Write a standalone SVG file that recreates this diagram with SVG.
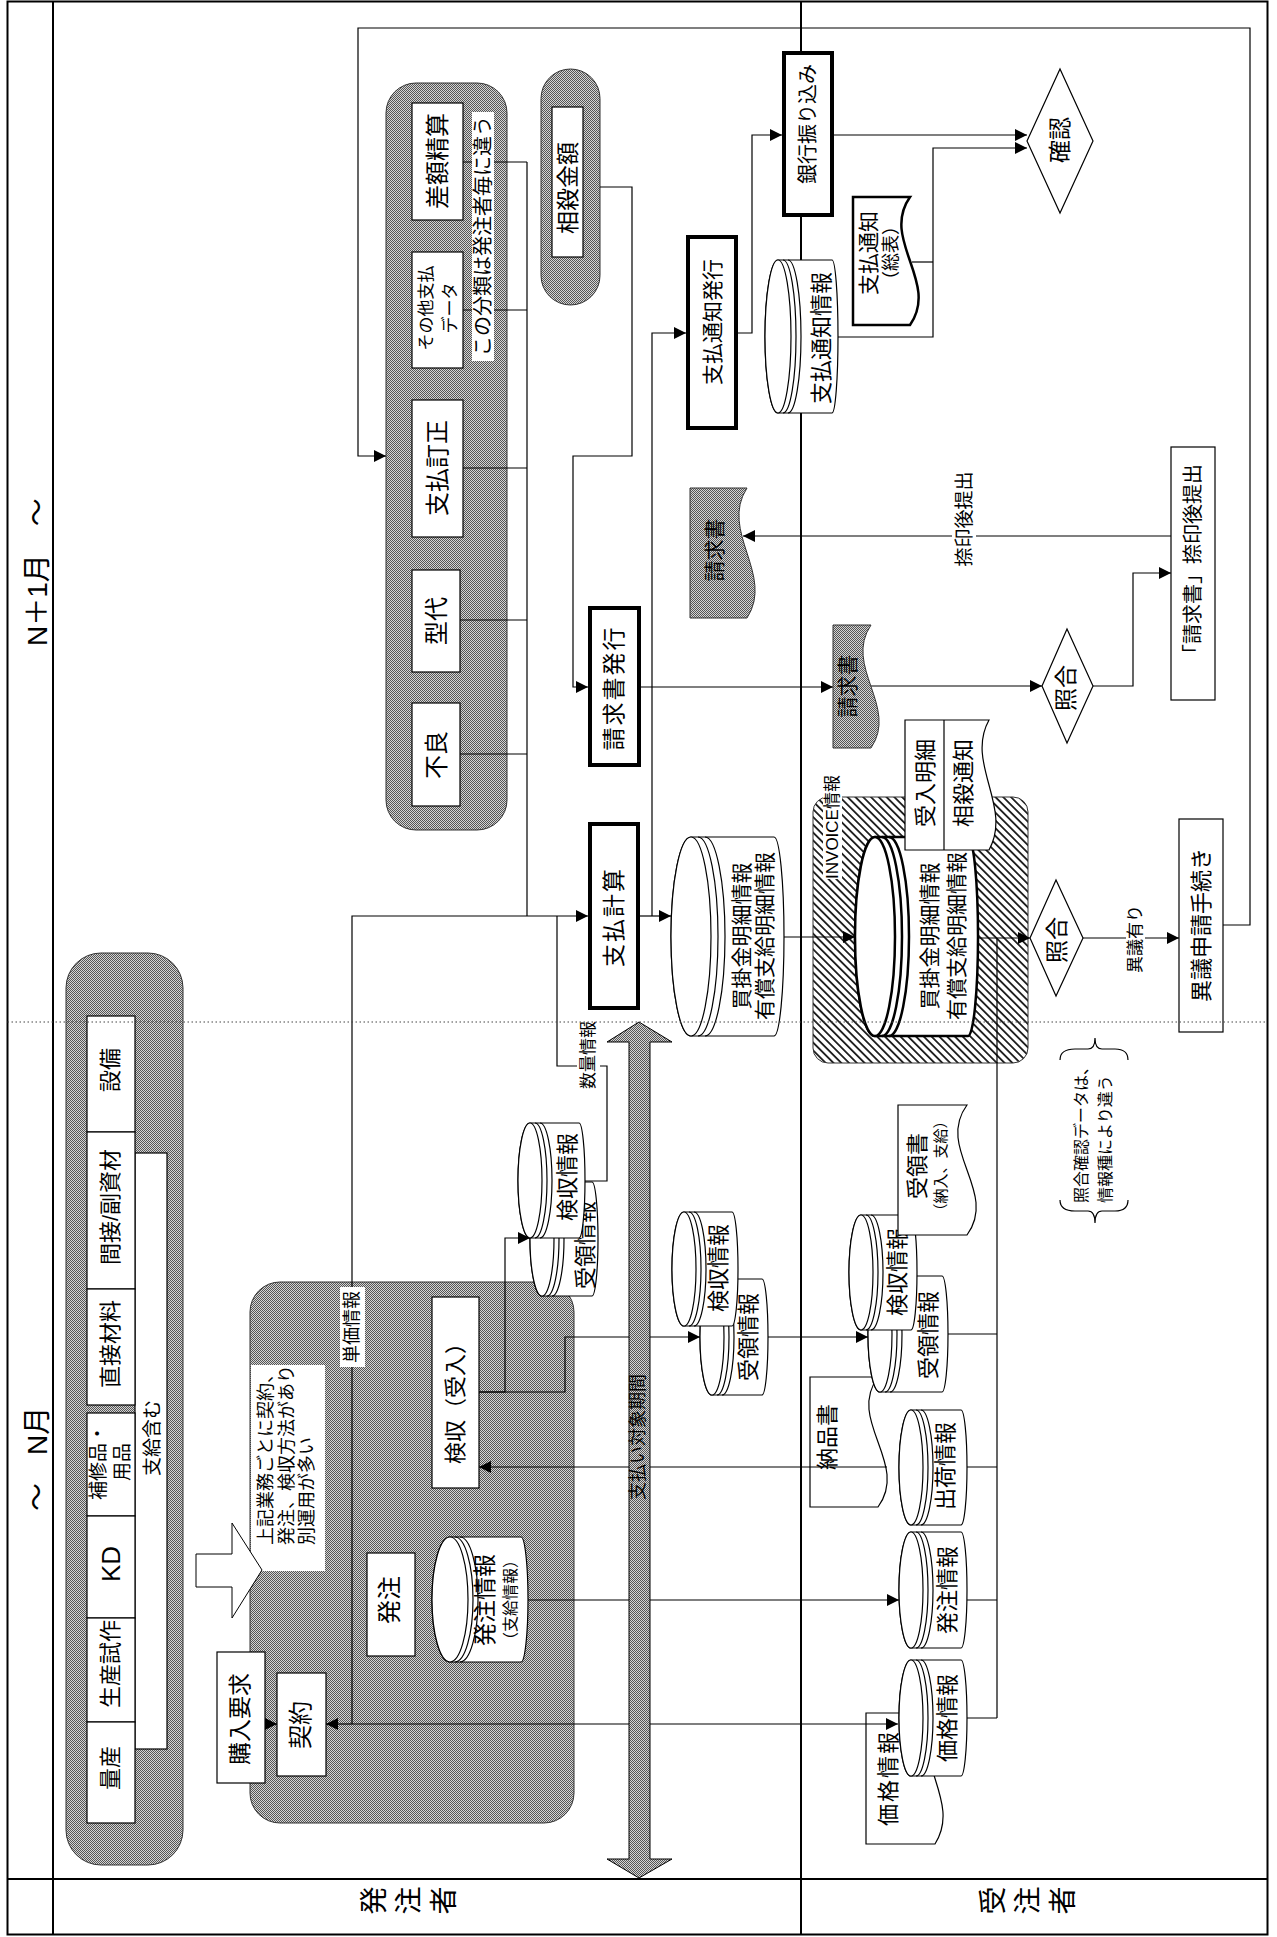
<svg xmlns="http://www.w3.org/2000/svg" width="1277" height="1937" viewBox="0 0 1277 1937">
<defs>
<pattern id="gray" width="2" height="2" patternUnits="userSpaceOnUse">
<rect width="2" height="2" fill="#d4d4d4"/>
<rect width="1" height="1" fill="#555"/>
<rect x="1" y="1" width="1" height="1" fill="#555"/>
</pattern>
<pattern id="hatch" width="5.5" height="6" patternUnits="userSpaceOnUse" patternTransform="rotate(-45)">
<rect width="5.5" height="6" fill="#fff"/>
<line x1="2.75" y1="0" x2="2.75" y2="6" stroke="#000" stroke-width="1.6"/>
</pattern>
<marker id="ah" viewBox="0 0 12 12" markerWidth="12" markerHeight="12" refX="12" refY="6" orient="auto" markerUnits="userSpaceOnUse">
<path d="M0,0 L12,6 L0,12 Z" fill="#000"/>
</marker>
</defs>
<style>
.t{font-family:"Liberation Sans","Noto Sans CJK JP",sans-serif;text-anchor:middle;dominant-baseline:central;fill:#000}
.st{text-anchor:start}
.ln{fill:none;stroke:#000;stroke-width:1.2}
.a{marker-end:url(#ah)}
.box{fill:#fff;stroke:#000;stroke-width:1.2}
.thick{fill:#fff;stroke:#000;stroke-width:4}
.grp{fill:url(#gray);stroke:#333;stroke-width:1}
.cyl{fill:#fff;stroke:#000;stroke-width:1.2}
.cylb{fill:#fff;stroke:#000;stroke-width:2.5}
.arc{fill:none;stroke:#000;stroke-width:1.2}
.arcb{fill:none;stroke:#000;stroke-width:2.5}
.doc{fill:#fff;stroke:#000;stroke-width:1.2}
.gdoc{fill:url(#gray);stroke:#333;stroke-width:1}
.bg{fill:#fff}
.frame{fill:none;stroke:#000;stroke-width:2}
.f15{font-size:15px}.f16{font-size:16px}.f17{font-size:17px}.f18{font-size:18px}.f19{font-size:19px}.f20{font-size:20px}.f21{font-size:21px}.f22{font-size:22px}.f23{font-size:23px}.f24{font-size:24px}.f26{font-size:26px}.f28{font-size:28px}
.ls2{letter-spacing:2px}
</style>
<rect x="0" y="0" width="1277" height="1937" fill="#fff"/>

<!-- frame -->
<g id="frame">
<rect class="frame" x="7.5" y="1.5" width="1260" height="1933"/>
<line class="frame" x1="53" y1="1.5" x2="53" y2="1934.5"/>
<line class="frame" x1="7.5" y1="1879" x2="1267.5" y2="1879"/>
<line class="frame" x1="801" y1="1.5" x2="801" y2="1934.5"/>
<text class="t st f28" transform="translate(37,646) rotate(-90)">N＋1月　～</text>
<text class="t st f28" transform="translate(37,1511) rotate(-90)">～　N月</text>
<text class="t f28" transform="translate(412,1903) rotate(-90)" style="writing-mode:vertical-rl;letter-spacing:7px">発注者</text>
<text class="t f28" transform="translate(1031,1903) rotate(-90)" style="writing-mode:vertical-rl;letter-spacing:7px">受注者</text>
</g>

<!-- adjustment group -->
<g id="adjust-group">
<rect class="grp" x="386" y="83" width="121" height="747" rx="30"/>
<rect class="box" x="412" y="103" width="51" height="117"/>
<text class="t f24" transform="translate(437,161) rotate(-90)">差額精算</text>
<rect class="box" x="412" y="252" width="51" height="116"/>
<text class="t f17" transform="translate(438,308) rotate(-90)"><tspan x="0" y="-12">その他支払</tspan><tspan x="0" y="12">データ</tspan></text>
<rect class="box" x="412" y="400" width="51" height="137"/>
<text class="t f24" transform="translate(437,468) rotate(-90)">支払訂正</text>
<rect class="box" x="412" y="570" width="48" height="102"/>
<text class="t f24" transform="translate(436,621) rotate(-90)">型代</text>
<rect class="box" x="412" y="703" width="48" height="103"/>
<text class="t f24" transform="translate(436,755) rotate(-90)">不良</text>
</g>

<g id="offset-amount">
<rect class="grp" x="541" y="69" width="59" height="236" rx="29.5"/>
<rect class="box" x="552" y="107" width="31" height="150"/>
<text class="t f23" transform="translate(568,188) rotate(-90)">相殺金額</text>
</g>

<g id="invoice-area">
<rect x="813" y="797" width="215" height="266" rx="15" fill="url(#hatch)" stroke="#333" stroke-width="1"/>
</g>

<!-- classification group -->
<g id="class-group">
<rect class="grp" x="66" y="953" width="117" height="912" rx="35"/>
<rect class="box" x="135" y="1153" width="32" height="596"/>
<text class="t f19" transform="translate(152,1438) rotate(-90)">支給含む</text>
<rect class="box" x="87" y="1016" width="48" height="116"/>
<text class="t f22" transform="translate(110,1070) rotate(-90)">設備</text>
<rect class="box" x="87" y="1132" width="48" height="157"/>
<text class="t f22" transform="translate(110,1207) rotate(-90)">間接/副資材</text>
<rect class="box" x="87" y="1289" width="48" height="116"/>
<text class="t f22" transform="translate(110,1344) rotate(-90)">直接材料</text>
<rect class="box" x="87" y="1413" width="48" height="103"/>
<text class="t f19" transform="translate(110,1462) rotate(-90)"><tspan x="0" y="-12">補修品・</tspan><tspan x="0" y="12">用品</tspan></text>
<rect class="box" x="87" y="1516" width="48" height="102"/>
<text class="t f26" transform="translate(111,1564) rotate(-90)">KD</text>
<rect class="box" x="87" y="1618" width="48" height="104"/>
<text class="t f22" transform="translate(110,1664) rotate(-90)">生産試作</text>
<rect class="box" x="87" y="1722" width="48" height="101"/>
<text class="t f22" transform="translate(110,1768) rotate(-90)">量産</text>
</g>

<!-- order group -->
<g id="order-group">
<rect class="grp" x="250" y="1282" width="324" height="541" rx="30"/>
<rect class="bg" x="251" y="1365" width="74" height="206"/>
<text class="t st f18" transform="translate(287,1545) rotate(-90)"><tspan x="0" y="-21">上記業務ごとに契約、</tspan><tspan x="0" y="0">発注、検収方法があり</tspan><tspan x="0" y="20">別運用が多い</tspan></text>
</g>
<g id="block-arrow">
<polygon points="196,1554 232,1554 232,1523 262,1570 232,1618 232,1587 196,1587" fill="#fff" stroke="#000" stroke-width="1"/>
</g>
<g id="order"><rect class="box" x="367" y="1553" width="48" height="103"/>
<text class="t f24" transform="translate(389,1600) rotate(-90)">発注</text></g>
<g id="purchase-request"><rect class="box" x="217" y="1652" width="48" height="131"/>
<text class="t f23" transform="translate(240,1719) rotate(-90)">購入要求</text></g>
<g id="contract"><rect class="box" x="277" y="1673" width="49" height="103"/>
<text class="t f24" transform="translate(300,1725) rotate(-90)">契約</text></g>
<g id="inspection"><rect class="box" x="432" y="1297" width="47" height="191"/>
<text class="t f22" transform="translate(455,1398) rotate(-90)">検収（受入）</text></g>

<!-- documents behind -->
<g id="doc-delivery">
<path class="doc" d="M810,1377 H878 C846,1420.3 910,1463.7 878,1507 H810 Z"/>
<text class="t f22" transform="translate(827,1437) rotate(-90)">納品書</text>
</g>
<g id="doc-price">
<path class="doc" d="M866,1713 H935 C907,1756.7 963,1800.3 935,1844 H866 Z"/>
<text class="t f22 ls2" transform="translate(888,1778) rotate(-90)">価格情報</text>
</g>

<!-- connectors -->
<g id="connectors">
<path class="ln a" d="M1223,925 H1250 V28 H358 V456 H386"/>
<path class="ln" d="M463,162 H527 M463,310 H527 M463,468 H527 M460,620 H527 M460,754 H527 M527,162 V916"/>
<path class="ln a" d="M352,1724 V916 H588"/>
<path class="ln" d="M585,1181 H607 V1066 H557 V916"/>
<path class="ln a" d="M600,187 H632 V456 H573 V687 H588"/>
<path class="ln a" d="M640,916 H671"/>
<path class="ln a" d="M652,916 V333 H686"/>
<path class="ln a" d="M641,687 H833"/>
<path class="ln a" d="M738,333 H752 V135 H782"/>
<path class="ln a" d="M834,135 H1027"/>
<path class="ln a" d="M838,337 H933 V148 H1027"/>
<path class="ln" d="M912,262 H933"/>
<path class="ln a" d="M871,686 H1042"/>
<path class="ln a" d="M1093,686 H1133 V573 H1171"/>
<path class="ln a" d="M1171,536 H743"/>
<path class="ln a" d="M784,937 H855"/>
<path class="ln a" d="M978,938 H1030"/>
<path class="ln" d="M997,938 V1718 M948,1334 H997 M967,1467 H997 M967,1600 H997 M967,1718 H997"/>
<path class="ln a" d="M1083,938 H1179"/>
<path class="ln a" d="M479,1392 H505 V1238 H530"/>
<path class="ln a" d="M479,1392 H565 V1337 H700"/>
<path class="ln a" d="M768,1337 H868"/>
<path class="ln a" d="M887,1467 H479"/>
<path class="ln a" d="M528,1600 H899"/>
<path class="ln a" d="M352,1724 H898"/>
<path class="ln a" d="M352,1724 H326"/>
<path class="ln a" d="M265,1724 H277"/>
</g>

<!-- connector labels -->
<g id="label-unitprice"><rect class="bg" x="340" y="1287" width="25" height="80"/>
<text class="t f18" transform="translate(352,1327) rotate(-90)">単価情報</text></g>
<g id="label-qty"><rect class="bg" x="577" y="1018" width="23" height="74"/>
<text class="t f17" transform="translate(588,1055) rotate(-90)">数量情報</text></g>
<g id="label-seal"><rect class="bg" x="952" y="468" width="24" height="102"/>
<text class="t f19" transform="translate(964,519) rotate(-90)">捺印後提出</text></g>
<g id="label-objection"><rect class="bg" x="1126" y="901" width="19" height="76"/>
<text class="t f17" transform="translate(1135,939) rotate(-90)">異議有り</text></g>
<g id="label-invoice"><rect class="bg" x="823" y="775" width="19" height="104"/>
<text class="t f17" transform="translate(832,827) rotate(-90)">INVOICE情報</text></g>

<!-- cylinders -->
<g id="cyl-paynotice">
<path class="cyl" d="M778,260 H832 A6,76.5 0 0 1 832,413 H778 A13,76.5 0 0 1 778,260 Z"/>
<ellipse class="cyl" cx="778" cy="336.5" rx="13" ry="76.5"/>
<path class="arc" d="M783,260 A13,76.5 0 0 1 783,413 M788,260 A13,76.5 0 0 1 788,413"/>
<text class="t f22" transform="translate(821,338) rotate(-90)">支払通知情報</text>
</g>
<g id="cyl-ap1">
<path class="cyl" d="M691,837 H774 A10,99.5 0 0 1 774,1036 H691 A20,99.5 0 0 1 691,837 Z"/>
<ellipse class="cyl" cx="691" cy="936.5" rx="20" ry="99.5"/>
<path class="arc" d="M698,837 A20,99.5 0 0 1 698,1036 M705,837 A20,99.5 0 0 1 705,1036"/>
<text class="t f21" transform="translate(752.5,936) rotate(-90)"><tspan x="0" y="-11.5">買掛金明細情報</tspan><tspan x="0" y="11.5">有償支給明細情報</tspan></text>
</g>
<g id="cyl-ap2">
<path class="cylb" d="M875,837 H968 A10,99.5 0 0 1 968,1036 H875 A20,99.5 0 0 1 875,837 Z"/>
<ellipse class="cylb" cx="875" cy="936.5" rx="20" ry="99.5"/>
<path class="arcb" d="M882,837 A20,99.5 0 0 1 882,1036 M889,837 A20,99.5 0 0 1 889,1036"/>
<text class="t f21" transform="translate(942.5,936) rotate(-90)"><tspan x="0" y="-13.5">買掛金明細情報</tspan><tspan x="0" y="13.5">有償支給明細情報</tspan></text>
</g>
<g id="cyl-recv-a">
<path class="cyl" d="M542,1182 H592 A6,57 0 0 1 592,1296 H542 A12,57 0 0 1 542,1182 Z"/>
<ellipse class="cyl" cx="542" cy="1239" rx="12" ry="57"/>
<path class="arc" d="M547,1182 A12,57 0 0 1 547,1296 M552,1182 A12,57 0 0 1 552,1296"/>
<text class="t f22" transform="translate(585,1245) rotate(-90)">受領情報</text>
</g>
<g id="cyl-insp-a">
<path class="cyl" d="M530,1123 H579 A6,57.5 0 0 1 579,1238 H530 A12,57.5 0 0 1 530,1123 Z"/>
<ellipse class="cyl" cx="530" cy="1180.5" rx="12" ry="57.5"/>
<path class="arc" d="M535,1123 A12,57.5 0 0 1 535,1238 M540,1123 A12,57.5 0 0 1 540,1238"/>
<text class="t f22" transform="translate(567,1177) rotate(-90)">検収情報</text>
</g>
<g id="cyl-recv-b">
<path class="cyl" d="M712,1279 H762 A6,58 0 0 1 762,1395 H712 A12,58 0 0 1 712,1279 Z"/>
<ellipse class="cyl" cx="712" cy="1337" rx="12" ry="58"/>
<path class="arc" d="M717,1279 A12,58 0 0 1 717,1395 M722,1279 A12,58 0 0 1 722,1395"/>
<text class="t f22" transform="translate(748,1337) rotate(-90)">受領情報</text>
</g>
<g id="cyl-insp-b">
<path class="cyl" d="M684,1212 H732 A6,57 0 0 1 732,1326 H684 A12,57 0 0 1 684,1212 Z"/>
<ellipse class="cyl" cx="684" cy="1269" rx="12" ry="57"/>
<path class="arc" d="M689,1212 A12,57 0 0 1 689,1326 M694,1212 A12,57 0 0 1 694,1326"/>
<text class="t f22" transform="translate(718,1268) rotate(-90)">検収情報</text>
</g>
<g id="cyl-recv-c">
<path class="cyl" d="M880,1276 H942 A6,58 0 0 1 942,1392 H880 A12,58 0 0 1 880,1276 Z"/>
<ellipse class="cyl" cx="880" cy="1334" rx="12" ry="58"/>
<path class="arc" d="M885,1276 A12,58 0 0 1 885,1392 M890,1276 A12,58 0 0 1 890,1392"/>
<text class="t f22" transform="translate(928,1335) rotate(-90)">受領情報</text>
</g>
<g id="cyl-insp-c">
<path class="cyl" d="M861,1215 H911 A6,57.5 0 0 1 911,1330 H861 A12,57.5 0 0 1 861,1215 Z"/>
<ellipse class="cyl" cx="861" cy="1272.5" rx="12" ry="57.5"/>
<path class="arc" d="M866,1215 A12,57.5 0 0 1 866,1330 M871,1215 A12,57.5 0 0 1 871,1330"/>
<text class="t f22" transform="translate(897,1272) rotate(-90)">検収情報</text>
</g>
<g id="cyl-order-a">
<path class="cyl" d="M450,1537 H521 A7,62.5 0 0 1 521,1662 H450 A18,62.5 0 0 1 450,1537 Z"/>
<ellipse class="cyl" cx="450" cy="1599.5" rx="18" ry="62.5"/>
<path class="arc" d="M455,1537 A18,62.5 0 0 1 455,1662 M460,1537 A18,62.5 0 0 1 460,1662"/>
<text class="t" transform="translate(497,1600) rotate(-90)"><tspan class="f23" x="0" y="-12">発注情報</tspan><tspan class="f16" x="0" y="13">（支給情報）</tspan></text>
</g>
<g id="cyl-ship">
<path class="cyl" d="M911,1410 H961 A6,57.5 0 0 1 961,1525 H911 A12,57.5 0 0 1 911,1410 Z"/>
<ellipse class="cyl" cx="911" cy="1467.5" rx="12" ry="57.5"/>
<path class="arc" d="M916,1410 A12,57.5 0 0 1 916,1525 M921,1410 A12,57.5 0 0 1 921,1525"/>
<text class="t f22" transform="translate(945,1466) rotate(-90)">出荷情報</text>
</g>
<g id="cyl-order-b">
<path class="cyl" d="M911,1532 H961 A6,58 0 0 1 961,1648 H911 A12,58 0 0 1 911,1532 Z"/>
<ellipse class="cyl" cx="911" cy="1590" rx="12" ry="58"/>
<path class="arc" d="M916,1532 A12,58 0 0 1 916,1648 M921,1532 A12,58 0 0 1 921,1648"/>
<text class="t f22" transform="translate(947,1590) rotate(-90)">発注情報</text>
</g>
<g id="cyl-price">
<path class="cyl" d="M911,1660 H961 A6,58 0 0 1 961,1776 H911 A12,58 0 0 1 911,1660 Z"/>
<ellipse class="cyl" cx="911" cy="1718" rx="12" ry="58"/>
<path class="arc" d="M916,1660 A12,58 0 0 1 916,1776 M921,1660 A12,58 0 0 1 921,1776"/>
<text class="t f22" transform="translate(947,1718) rotate(-90)">価格情報</text>
</g>

<!-- documents front -->
<g id="doc-paynotice">
<path d="M853,197 H910 C880,239.7 940,282.3 910,325 H853 Z" fill="#fff" stroke="#000" stroke-width="2.5"/>
<text class="t" transform="translate(879,253) rotate(-90)"><tspan class="f21" x="0" y="-11">支払通知</tspan><tspan class="f18" x="0" y="12">（総表）</tspan></text>
</g>
<g id="doc-invoice1">
<path class="gdoc" d="M690,488 H747 C719,531.3 775,574.7 747,618 H690 Z"/>
<text class="t f21" transform="translate(714,550) rotate(-90)">請求書</text>
</g>
<g id="doc-invoice2">
<path class="gdoc" d="M833,625 H871 C843,666 899,707 871,748 H833 Z"/>
<text class="t f21" transform="translate(847,686) rotate(-90)">請求書</text>
</g>
<g id="doc-detail">
<path class="doc" d="M905,720 H989 C965,763.3 1013,806.7 989,850 H905 Z"/>
<line class="ln" x1="944" y1="720" x2="944" y2="850"/>
<text class="t f22" transform="translate(925,783) rotate(-90)">受入明細</text>
<text class="t f22" transform="translate(963,783) rotate(-90)">相殺通知</text>
</g>
<g id="doc-receipt">
<path class="doc" d="M898,1105 H967 C935,1148.3 999,1191.7 967,1235 H898 Z"/>
<text class="t" transform="translate(928,1166) rotate(-90)"><tspan class="f22" x="0" y="-11">受領書</tspan><tspan class="f15" x="0" y="12">（納入、支給）</tspan></text>
</g>

<!-- process boxes -->
<g id="pay-calc"><rect class="thick" x="590" y="824" width="48" height="184"/>
<text class="t f23 ls2" transform="translate(614,917) rotate(-90)">支払計算</text></g>
<g id="invoice-issue"><rect class="thick" x="590" y="608" width="49" height="157"/>
<text class="t f23 ls2" transform="translate(614,688) rotate(-90)">請求書発行</text></g>
<g id="notice-issue"><rect class="thick" x="688" y="237" width="48" height="191"/>
<text class="t f21" transform="translate(712,322) rotate(-90)">支払通知発行</text></g>
<g id="bank"><rect class="thick" x="784" y="53" width="48" height="162"/>
<text class="t f20" transform="translate(808,124) rotate(-90)">銀行振り込み</text></g>
<g id="objection"><rect class="box" x="1179" y="819" width="44" height="213"/>
<text class="t f22" transform="translate(1201,925) rotate(-90)">異議申請手続き</text></g>
<g id="seal-submit"><rect class="box" x="1171" y="447" width="44" height="253"/>
<text class="t f20" transform="translate(1193,564) rotate(-90)">「請求書」捺印後提出</text></g>

<!-- decisions -->
<g id="confirm"><polygon points="1027,141 1060,69 1093,141 1060,213" fill="#fff" stroke="#000" stroke-width="1.2"/>
<text class="t f23" transform="translate(1060,140) rotate(-90)">確認</text></g>
<g id="match1"><polygon points="1042,686 1067,629 1093,686 1067,743" fill="#fff" stroke="#000" stroke-width="1.2"/>
<text class="t f23" transform="translate(1066,688) rotate(-90)">照合</text></g>
<g id="match2"><polygon points="1030,938 1056,880 1083,938 1056,996" fill="#fff" stroke="#000" stroke-width="1.2"/>
<text class="t f23" transform="translate(1057,940) rotate(-90)">照合</text></g>

<!-- notes -->
<g id="note-classification"><rect class="bg" x="472" y="112" width="22" height="249"/>
<text class="t f20" transform="translate(483,236) rotate(-90)">この分類は発注者毎に違う</text></g>
<g id="note-match">
<path class="ln" d="M1060,1060 Q1060,1049 1075,1049 H1088 Q1095,1049 1095,1038 Q1095,1049 1102,1049 H1115 Q1128,1049 1128,1060"/>
<path class="ln" d="M1060,1200 Q1060,1211 1075,1211 H1088 Q1095,1211 1095,1223 Q1095,1211 1102,1211 H1115 Q1128,1211 1128,1200"/>
<text class="t st f16" transform="translate(1093,1203) rotate(-90)"><tspan x="0" y="-12">照合確認データは、</tspan><tspan x="0" y="12">情報種により違う</tspan></text>
</g>

<!-- payment period arrow -->
<g id="period-arrow">
<polygon points="639,1022 672,1042 650,1042 650,1859 672,1859 639,1878 607,1859 629,1859 629,1042 607,1042" fill="url(#gray)" stroke="#000" stroke-width="1"/>
<text class="t f18" transform="translate(638,1437) rotate(-90)">支払い対象期間</text>
</g>

<line x1="7.5" y1="1022" x2="1267.5" y2="1022" stroke="#444" stroke-width="1" stroke-dasharray="1.5,2.5"/>
</svg>
